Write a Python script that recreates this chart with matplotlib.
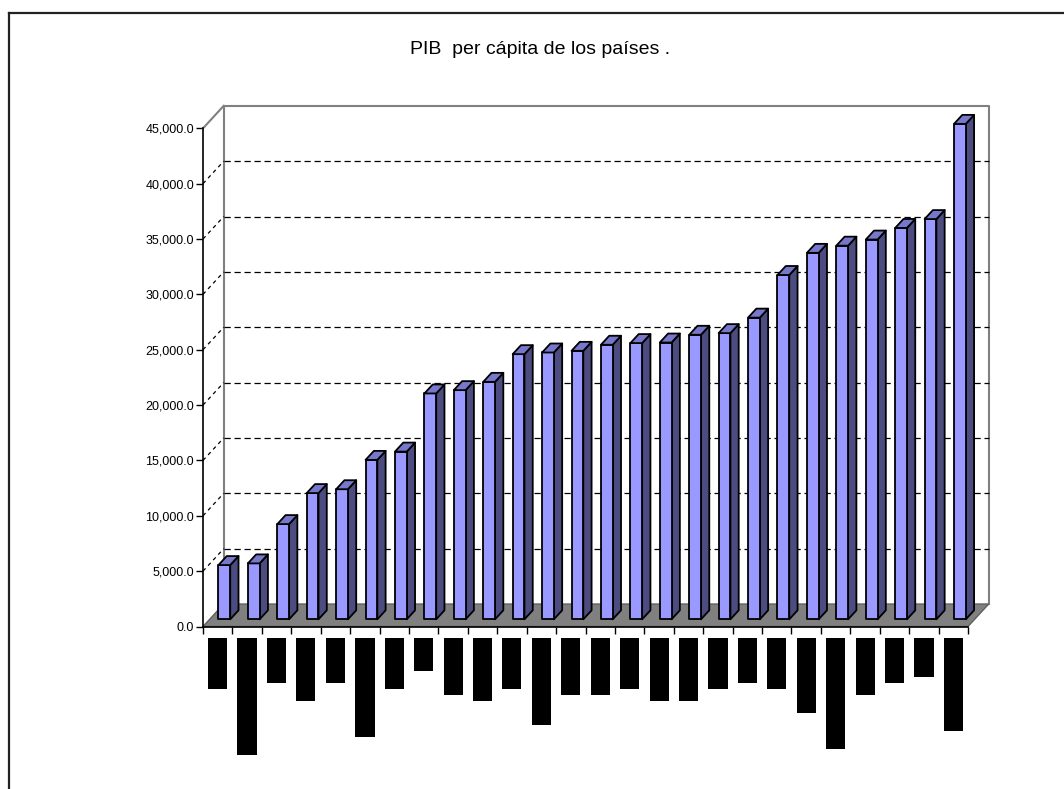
import matplotlib
matplotlib.use('Agg')
import matplotlib.pyplot as plt
from matplotlib.patches import Polygon

# data
paises = ['Turquía', 'República Eslovaca', 'México', 'Argentina', 'Brasil',
          'República Checa', 'Polonia', 'Perú', 'Portugal', 'Eslovenia',
          'Letonia', 'Nueva Zelanda', 'Alemania', 'Islandia', 'Francia',
          'Finlandia', 'Dinamarca', 'Bélgica', 'Suecia', 'Austria',
          'Reino Unido', 'Hong Kong (China)', 'Singapur', 'Canadá', 'Japón',
          'Estados Unidos']
pib = [4900, 5050, 8600, 11400, 11750, 14400, 15150, 20400, 20700, 21450,
       23950, 24100, 24250, 24800, 24950, 25000, 25700, 25850, 27250, 31100,
       33100, 33750, 34300, 35350, 36150, 44750]
y_ticks = list(range(0, 45001, 5000))
titulo = 'PIB  per cápita de los países .'

n = len(pib)
W, H = 1064, 789

# 3d look: depth vector in data units (categories, value)
dx, dy = 0.704, 2030
f0, f1 = 0.32, 0.72      # bar depth range (fraction of floor depth)
hw = 0.2                 # half width of a bar

fig = plt.figure(figsize=(W / 100, H / 100), dpi=100)
ax = fig.add_axes([203 / W, 1 - 626.5 / H, 765 / W, 498.2 / H])
ax.set_xlim(-0.5, n - 0.5)
ax.set_ylim(0, 45000)

x0, x1 = -0.5, n - 0.5
gray = '#808080'

# back wall + edges
ax.add_patch(Polygon([(x0 + dx, dy), (x1 + dx, dy), (x1 + dx, 45000 + dy), (x0 + dx, 45000 + dy)],
                     closed=True, facecolor='white', edgecolor='none', zorder=1, clip_on=False))
ax.plot([x0 + dx, x0 + dx, x1 + dx, x1 + dx], [dy, 45000 + dy, 45000 + dy, dy],
        color=gray, lw=1.5, zorder=2, clip_on=False)
ax.plot([x0, x0 + dx], [45000, 45000 + dy], color=gray, lw=1.5, zorder=2, clip_on=False)

# gridlines on the back wall and dashes on the side wall
for v in y_ticks[1:-1]:
    ax.plot([x0 + dx, x1 + dx], [v + dy, v + dy], color='black', lw=0.9,
            dashes=(5, 3), zorder=2, clip_on=False)
    ax.plot([x0, x0 + dx], [v, v + dy], color='black', lw=0.9,
            dashes=(3, 3), zorder=2, clip_on=False)

# floor
ax.add_patch(Polygon([(x0, 0), (x1, 0), (x1 + dx, dy), (x0 + dx, dy)], closed=True,
                     facecolor=gray, edgecolor='#606060', lw=1, zorder=3, clip_on=False))

# bars
for i, v in enumerate(pib):
    bx = i + f0 * dx
    by = f0 * dy
    ddx = (f1 - f0) * dx
    ddy = (f1 - f0) * dy
    front = [(bx - hw, by), (bx + hw, by), (bx + hw, by + v), (bx - hw, by + v)]
    top = [(bx - hw, by + v), (bx + hw, by + v), (bx + hw + ddx, by + v + ddy), (bx - hw + ddx, by + v + ddy)]
    side = [(bx + hw, by), (bx + hw + ddx, by + ddy), (bx + hw + ddx, by + v + ddy), (bx + hw, by + v)]
    for pts, c in [(side, '#4C4C80'), (front, '#9999FF'), (top, '#7777CC')]:
        ax.add_patch(Polygon(pts, closed=True, facecolor=c, edgecolor='black', lw=1.3,
                             joinstyle='round', zorder=4, clip_on=False))

# axes
for s in ['top', 'right']:
    ax.spines[s].set_visible(False)
ax.spines['left'].set_linewidth(1.2)
ax.spines['bottom'].set_linewidth(1.2)
ax.spines['left'].set_zorder(5)
ax.spines['bottom'].set_zorder(5)
ax.set_facecolor('none')
ax.set_yticks(y_ticks)
ax.set_yticklabels([f'{v:,.1f}' for v in y_ticks], fontsize=9, family='Liberation Sans')
ax.set_xticks([i - 0.5 for i in range(n + 1)])
ax.set_xticklabels([])
ax.tick_params(axis='both', direction='out', length=5, width=1, pad=1.5)

# category labels (rendered as black blocks)
for i, p in enumerate(paises):
    ax.annotate(p, xy=(i, 0), xytext=(0, -15.5), textcoords='offset pixels',
                rotation=90, ha='center', va='top', fontsize=7.2, family='DejaVu Sans Mono',
                color='black', annotation_clip=False,
                bbox=dict(boxstyle='square,pad=0.45', facecolor='black', edgecolor='none'))

fig.text(540 / W, 1 - 49 / H, titulo, ha='center', va='center', fontsize=14,
         family='Liberation Sans')

# outer frame
fig.add_artist(plt.Line2D([8.5 / W, 8.5 / W], [0, 1 - 12.5 / H], color='#222222', lw=1.6))
fig.add_artist(plt.Line2D([8.5 / W, 1], [1 - 12.5 / H, 1 - 12.5 / H], color='#222222', lw=1.6))

fig.savefig('out.png', dpi=100, facecolor='white')
